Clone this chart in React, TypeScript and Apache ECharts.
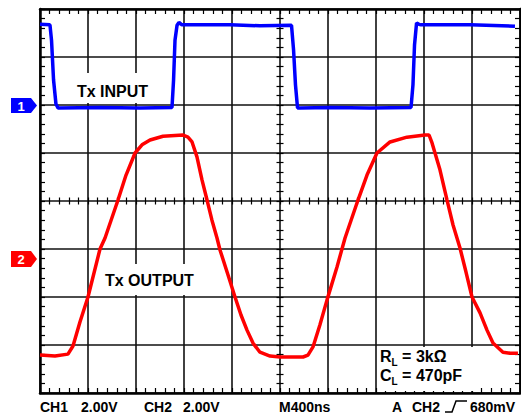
import React, { useEffect, useRef } from "react";
import * as echarts from "echarts";

// time in ns (400 ns / division), amplitude in screen divisions from centre
const blueTimes = [0, 83, 96, 113, 133, 150, 500, 833, 1100, 1113, 1125, 1142, 1158, 1183, 1583, 1833, 2096, 2113, 2129, 2146, 2167, 2417, 2750, 3092, 3108, 3121, 3138, 3158, 3175, 3583, 3958];
const blueDiv = [3.68, 3.67, 3.35, 2.52, 2.02, 1.94, 1.95, 1.94, 1.95, 2.52, 3.35, 3.66, 3.72, 3.67, 3.67, 3.65, 3.66, 3.15, 2.42, 1.94, 1.94, 1.95, 1.94, 1.95, 2.42, 3.25, 3.71, 3.68, 3.67, 3.67, 3.64];

const redTimes = [0, 125, 233, 275, 333, 400, 500, 542, 650, 717, 792, 850, 917, 1025, 1192, 1233, 1267, 1308, 1350, 1392, 1433, 1475, 1500, 1567, 1625, 1675, 1725, 1775, 1833, 1917, 2000, 2192, 2233, 2275, 2333, 2392, 2475, 2542, 2650, 2725, 2808, 2917, 3058, 3208, 3242, 3267, 3333, 3392, 3442, 3500, 3550, 3600, 3667, 3725, 3775, 3858, 3917, 3983];
const redDiv = [-3.21, -3.23, -3.19, -3.02, -2.52, -2.0, -1.0, -0.77, 0.02, 0.54, 1.0, 1.17, 1.27, 1.35, 1.375, 1.33, 1.23, 0.92, 0.44, 0.02, -0.4, -0.77, -1.02, -1.54, -2.0, -2.375, -2.69, -2.96, -3.15, -3.23, -3.25, -3.25, -3.21, -3.04, -2.58, -2.06, -1.375, -0.77, 0.02, 0.54, 1.0, 1.23, 1.33, 1.375, 1.375, 1.21, 0.65, 0.02, -0.5, -0.98, -1.48, -2.0, -2.33, -2.69, -2.96, -3.15, -3.17, -3.17];

const xMin = 0, xMax = 4000, xStep = 400;
const yMin = -4, yMax = 4, yStep = 1;

const bottomLabels = [
  { text: "CH1", x: 40 },
  { text: "2.00V", x: 81 },
  { text: "CH2", x: 144 },
  { text: "2.00V", x: 183 },
  { text: "M400ns", x: 279 },
  { text: "A", x: 392 },
  { text: "CH2", x: 412 },
  { text: "680mV", x: 470 },
];

const FONT = '"Liberation Sans", Arial, Helvetica, sans-serif';

export default function App() {
  const ref = useRef<HTMLDivElement>(null);
  useEffect(() => {
    if (!ref.current) return;
    const chart = echarts.init(ref.current, undefined, { renderer: "svg" });
    const tickStyle = { color: "#000", width: 1.2 };
    const baseX = (extra: any) => ({
      type: "value",
      min: xMin,
      max: xMax,
      interval: xStep,
      axisLabel: { show: false },
      splitLine: { show: false },
      ...extra,
    });
    const baseY = (extra: any) => ({
      type: "value",
      min: yMin,
      max: yMax,
      interval: yStep,
      axisLabel: { show: false },
      splitLine: { show: false },
      ...extra,
    });
    const border = { show: true, onZero: false, lineStyle: { color: "#000", width: 2.5 } };
    const noLine = { show: false, onZero: false };
    const edgeTick = { show: true, inside: true, length: 5, lineStyle: tickStyle };
    const edgeMinor = { show: true, splitNumber: 5, length: 5, lineStyle: tickStyle };
    const midTick = { show: true, inside: true, length: 7, lineStyle: tickStyle };
    const midMinor = { show: true, splitNumber: 5, length: 7, lineStyle: tickStyle };
    const gridLine = { show: true, lineStyle: { color: "#111", width: 1.6 } };

    const labelGraphics: any[] = bottomLabels.map((l) => ({
      type: "text",
      x: l.x,
      y: 407,
      style: { text: l.text, font: `bold 14px ${FONT}`, fill: "#000", verticalAlign: "middle" },
      z: 10,
    }));

    const richL = {
      b: { font: `bold 16px ${FONT}`, fill: "#000", verticalAlign: "bottom" },
      s: { font: `bold 10px ${FONT}`, fill: "#000", verticalAlign: "bottom", padding: [0, 0, -3, 0] },
    };

    chart.setOption({
      animation: false,
      backgroundColor: "#fff",
      grid: { left: 40, top: 9, right: 1, bottom: 22, containLabel: false },
      xAxis: [
        baseX({ position: "bottom", axisLine: border, axisTick: edgeTick, minorTick: edgeMinor, splitLine: gridLine }),
        baseX({ position: "top", axisLine: border, axisTick: edgeTick, minorTick: edgeMinor }),
        baseX({ position: "bottom", offset: -188.5, axisLine: noLine, axisTick: midTick, minorTick: midMinor }),
      ],
      yAxis: [
        baseY({ position: "left", axisLine: border, axisTick: edgeTick, minorTick: edgeMinor, splitLine: gridLine }),
        baseY({ position: "right", axisLine: border, axisTick: edgeTick, minorTick: edgeMinor }),
        baseY({ position: "left", offset: -236.5, axisLine: noLine, axisTick: midTick, minorTick: midMinor }),
      ],
      series: [
        {
          type: "line",
          xAxisIndex: 0,
          yAxisIndex: 0,
          data: blueTimes.map((t, i) => [t, blueDiv[i]]),
          showSymbol: false,
          lineStyle: { color: "#0000ff", width: 3.5 },
          z: 5,
        },
        {
          type: "line",
          xAxisIndex: 0,
          yAxisIndex: 0,
          data: redTimes.map((t, i) => [t, redDiv[i]]),
          showSymbol: false,
          lineStyle: { color: "#ff0000", width: 3.5 },
          z: 5,
        },
      ],
      graphic: [
        { type: "rect", shape: { x: 66, y: 73, width: 86, height: 30 }, style: { fill: "#fff" }, z: 1 },
        { type: "rect", shape: { x: 102, y: 264, width: 100, height: 31 }, style: { fill: "#fff" }, z: 1 },
        { type: "rect", shape: { x: 378, y: 347, width: 96, height: 44 }, style: { fill: "#fff" }, z: 1 },
        {
          type: "text",
          x: 77,
          y: 91,
          style: { text: "Tx INPUT", font: `bold 16px ${FONT}`, fill: "#000", verticalAlign: "middle" },
          z: 10,
        },
        {
          type: "text",
          x: 105,
          y: 280,
          style: { text: "Tx OUTPUT", font: `bold 16px ${FONT}`, fill: "#000", verticalAlign: "middle" },
          z: 10,
        },
        {
          type: "text",
          x: 380,
          y: 356,
          style: { text: "{b|R}{s|L}{b| = 3kΩ}", verticalAlign: "middle", rich: richL },
          z: 10,
        },
        {
          type: "text",
          x: 380,
          y: 375,
          style: { text: "{b|C}{s|L}{b| = 470pF}", verticalAlign: "middle", rich: richL },
          z: 10,
        },
        {
          type: "polygon",
          shape: { points: [[11, 98], [31, 98], [37, 105.5], [31, 113], [11, 113]] },
          style: { fill: "#0000ff" },
          z: 10,
        },
        {
          type: "text",
          x: 21,
          y: 106,
          style: { text: "1", font: `bold 13px ${FONT}`, fill: "#fff", align: "center", verticalAlign: "middle" },
          z: 11,
        },
        {
          type: "polygon",
          shape: { points: [[11, 251], [31, 251], [37, 259], [31, 267], [11, 267]] },
          style: { fill: "#ff0000" },
          z: 10,
        },
        {
          type: "text",
          x: 21,
          y: 259.5,
          style: { text: "2", font: `bold 13px ${FONT}`, fill: "#fff", align: "center", verticalAlign: "middle" },
          z: 11,
        },
        {
          type: "polyline",
          shape: { points: [[445, 412], [452, 412], [456, 401], [467, 401]] },
          style: { stroke: "#000", lineWidth: 1.5, fill: "none" },
          z: 10,
        },
        ...labelGraphics,
      ],
    });
    return () => chart.dispose();
  }, []);
  return (
    <div
      ref={ref}
      style={{ position: "absolute", left: 0, top: 0, width: 521, height: 415 }}
    />
  );
}
